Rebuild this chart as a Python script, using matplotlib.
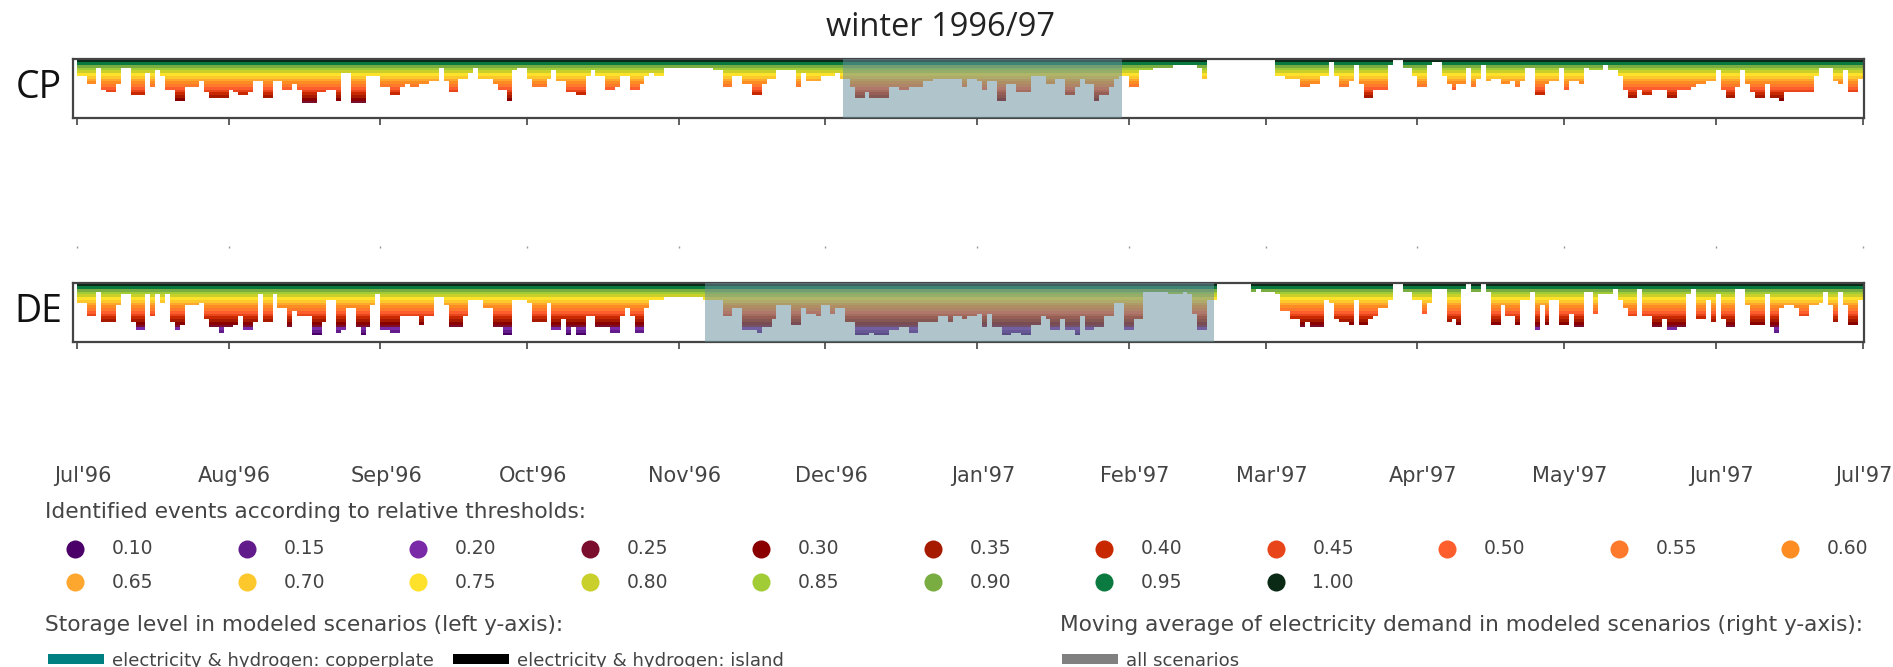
import numpy as np
import matplotlib
matplotlib.use("Agg")
import matplotlib.pyplot as plt
import matplotlib.transforms as mtransforms
from matplotlib.colors import ListedColormap

plt.rcParams['font.family'] = ['Open Sans', 'DejaVu Sans']

# thresholds and their colours
thresholds = [0.10, 0.15, 0.20, 0.25, 0.30, 0.35, 0.40, 0.45, 0.50, 0.55,
              0.60, 0.65, 0.70, 0.75, 0.80, 0.85, 0.90, 0.95, 1.00]
threshold_colors = ['#4a0068', '#621b8a', '#7a2aa6', '#7c0e2d', '#8a0000',
                    '#a61a00', '#c82800', '#e8461a', '#fe5e2e', '#fd7a2c',
                    '#fd8c22', '#fda72f', '#fdc82c', '#fde12a', '#c9d02c',
                    '#a2cc35', '#7aad41', '#0b7a40', '#0a2a16']

month_days = [0, 31, 62, 92, 123, 153, 184, 215, 243, 274, 304, 335, 365]
month_labels = ["Jul'96", "Aug'96", "Sep'96", "Oct'96", "Nov'96", "Dec'96",
                "Jan'97", "Feb'97", "Mar'97", "Apr'97", "May'97", "Jun'97", "Jul'97"]

# lowest threshold reached, as steps: day (from 1 Jul 1996) where a level starts
# None = no event that day
cp_start = [0, 2, 4, 5, 6, 8, 9, 11, 14, 15, 16, 17, 18, 20, 22, 25, 26, 27, 31, 32,
            33, 35, 36, 38, 40, 42, 44, 45, 46, 49, 51, 53, 54, 56, 59, 62, 64, 66, 67, 68,
            70, 72, 74, 75, 76, 78, 80, 81, 82, 85, 86, 88, 89, 90, 92, 93, 96, 97, 98, 100,
            102, 104, 105, 106, 108, 110, 111, 113, 115, 116, 117, 118, 120, 130, 132, 134, 136, 138, 140, 141,
            143, 147, 148, 149, 152, 155, 156, 158, 159, 161, 162, 166, 168, 170, 173, 175, 181, 182, 184, 185,
            186, 188, 190, 192, 195, 198, 200, 202, 204, 205, 206, 208, 209, 211, 212, 213, 215, 217, 220, 224,
            229, 230, 231, 245, 247, 250, 252, 254, 256, 257, 258, 260, 261, 262, 263, 265, 268, 269, 271, 273,
            274, 276, 277, 279, 280, 281, 282, 284, 285, 286, 287, 288, 289, 291, 293, 294, 295, 296, 298, 300,
            301, 303, 304, 305, 307, 308, 309, 312, 313, 315, 316, 317, 319, 320, 322, 325, 327, 330, 331, 333,
            335, 336, 337, 339, 340, 341, 342, 343, 345, 346, 348, 349, 355, 356, 359, 360, 361, 362, 364]
cp_level = [0.75, 0.60, 0.90, 0.50, 0.45, 0.60, 0.90, 0.40, 0.80, 0.55, 0.85, 0.75, 0.50, 0.30, 0.55, 0.65, 0.45, 0.35, 0.50, 0.45,
            0.40, 0.45, 0.65, 0.35, 0.65, 0.50, 0.60, 0.50, 0.25, 0.45, 0.50, 0.30, 0.80, 0.25, 0.75, 0.55, 0.40, 0.55, 0.60, 0.55,
            0.60, 0.65, 0.90, 0.65, 0.45, 0.70, 0.80, 0.90, 0.70, 0.60, 0.50, 0.30, 0.85, 0.90, 0.70, 0.55, 0.70, 0.85, 0.65, 0.45,
            0.40, 0.75, 0.85, 0.75, 0.50, 0.55, 0.75, 0.50, 0.60, 0.75, 0.80, 0.75, 0.90, 0.85, 0.55, 0.75, 0.60, 0.40, 0.60, 0.70,
            0.85, 0.55, 0.80, 0.65, 0.75, 0.80, 0.70, 0.55, 0.35, 0.45, 0.35, 0.55, 0.50, 0.55, 0.65, 0.70, 0.55, 0.70, 0.65, 0.50,
            0.65, 0.30, 0.60, 0.45, 0.75, 0.60, 0.70, 0.40, 0.55, 0.70, 0.60, 0.30, 0.40, 0.55, 0.70, 0.75, 0.55, 0.85, 0.90, 0.95,
            0.90, 0.70, None, 0.75, 0.70, 0.55, 0.60, 0.75, 1.00, 0.75, 0.55, 0.65, 0.95, 0.60, 0.35, 0.50, 0.95, None, 0.90, 0.75,
            0.55, 0.95, 1.00, 0.75, 0.60, 0.50, 0.60, 0.90, 0.55, 0.70, 0.95, 0.65, 0.70, 0.60, 0.65, 0.55, 0.65, 0.90, 0.40, 0.60,
            0.65, 0.90, 0.50, 0.65, 0.60, 0.90, 0.85, 0.95, 0.85, 0.75, 0.50, 0.35, 0.50, 0.40, 0.50, 0.35, 0.50, 0.55, 0.60, 0.65,
            0.85, 0.50, 0.35, 0.55, 0.85, 0.60, 0.45, 0.35, 0.60, 0.35, 0.30, 0.45, 0.75, 0.90, 0.65, 0.60, 0.85, 0.45, 0.70]

de_start = [0, 2, 4, 5, 8, 9, 11, 12, 14, 15, 16, 17, 18, 19, 20, 21, 22, 25, 26, 27,
            29, 30, 32, 33, 34, 36, 37, 38, 40, 41, 43, 44, 45, 48, 50, 51, 53, 54, 55, 57,
            58, 59, 60, 61, 62, 64, 66, 70, 71, 73, 75, 76, 79, 80, 83, 85, 87, 89, 92, 93,
            96, 97, 99, 100, 101, 102, 104, 106, 109, 111, 112, 113, 114, 116, 117, 120, 128, 132, 134, 136,
            139, 140, 142, 143, 146, 148, 149, 151, 152, 154, 155, 157, 159, 162, 163, 166, 168, 170, 172, 176,
            178, 179, 181, 182, 184, 185, 186, 187, 189, 191, 193, 195, 197, 198, 199, 201, 202, 204, 205, 206,
            208, 210, 212, 214, 216, 218, 223, 226, 227, 228, 229, 231, 233, 240, 241, 242, 245, 246, 248, 250,
            251, 252, 255, 256, 257, 258, 260, 261, 262, 264, 265, 266, 268, 269, 271, 273, 275, 276, 277, 280,
            281, 282, 283, 284, 285, 287, 288, 289, 291, 292, 294, 295, 297, 298, 299, 300, 301, 303, 305, 306,
            308, 310, 311, 314, 315, 316, 317, 319, 320, 322, 324, 325, 327, 329, 330, 331, 333, 334, 335, 336,
            337, 339, 341, 342, 345, 346, 347, 348, 349, 351, 352, 354, 356, 357, 358, 359, 360, 361, 362, 364]
de_level = [0.70, 0.45, 0.90, 0.35, 0.65, 0.85, 0.35, 0.20, 0.85, 0.45, 0.85, 0.70, 0.85, 0.35, 0.20, 0.30, 0.65, 0.70, 0.40, 0.25,
            0.15, 0.25, 0.30, 0.45, 0.20, 0.35, 0.85, 0.35, 0.85, 0.60, 0.25, 0.55, 0.45, 0.10, 0.35, 0.75, 0.15, 0.20, 0.60, 0.25,
            0.10, 0.25, 0.65, 0.85, 0.20, 0.15, 0.45, 0.30, 0.45, 0.80, 0.65, 0.25, 0.45, 0.75, 0.60, 0.25, 0.10, 0.75, 0.70, 0.35,
            0.70, 0.20, 0.40, 0.10, 0.25, 0.10, 0.45, 0.25, 0.15, 0.45, 0.60, 0.45, 0.15, 0.60, 0.75, 0.80, 0.75, 0.45, 0.60, 0.20,
            0.15, 0.25, 0.40, 0.65, 0.30, 0.60, 0.50, 0.45, 0.65, 0.50, 0.60, 0.35, 0.10, 0.15, 0.10, 0.20, 0.25, 0.15, 0.35, 0.45,
            0.35, 0.45, 0.40, 0.45, 0.50, 0.25, 0.50, 0.25, 0.10, 0.15, 0.10, 0.30, 0.45, 0.40, 0.20, 0.40, 0.20, 0.10, 0.45, 0.20,
            0.25, 0.45, 0.70, 0.20, 0.40, 0.90, 0.85, 0.90, 0.85, 0.50, 0.20, 0.75, None, 0.90, 0.95, 0.90, 0.85, 0.55, 0.40, 0.25,
            0.35, 0.25, 0.75, 0.70, 0.40, 0.35, 0.30, 0.75, 0.30, 0.40, 0.45, 0.60, 0.75, None, 0.90, 0.75, 0.50, 0.70, 0.95, 0.35,
            0.40, 0.30, 0.95, None, 0.90, None, 0.90, 0.30, 0.65, 0.45, 0.30, 0.75, 0.90, 0.20, 0.65, 0.30, 0.75, 0.30, 0.50, 0.25,
            0.90, 0.50, 0.85, 0.95, 0.75, 0.60, 0.45, 0.95, 0.45, 0.25, 0.40, 0.20, 0.25, 0.85, 0.95, 0.40, 0.75, 0.35, 0.85, 0.40,
            0.25, 0.95, 0.65, 0.30, 0.85, 0.25, 0.15, 0.60, 0.65, 0.60, 0.45, 0.65, 0.70, 0.90, 0.65, 0.35, 0.90, 0.65, 0.30, 0.75]

# highlighted winter event (day range) per region
cp_event = (156.5, 213.7)
de_event = (128.4, 232.5)

panels = [("CP", cp_start, cp_level, cp_event), ("DE", de_start, de_level, de_event)]

W, H = 1893, 667
fig = plt.figure(figsize=(W / 100, H / 100), dpi=100)

def fx(px):
    return px / W

def fy(px):
    return 1 - px / H

left, right = 73, 1864
cmap = ListedColormap(threshold_colors)
band_edges = np.array(thresholds + [thresholds[-1] + 0.05]) - 0.05
n_days = month_days[-1]
leg_font = 'DejaVu Sans'

panel_tops = [59, 283]
panel_h = 59
for (name, starts, levels, event), top in zip(panels, panel_tops):
    ax = fig.add_axes([fx(left), fy(top + panel_h), fx(right - left), panel_h / H])
    # expand steps to one value per day
    daily = np.full(n_days, np.nan)
    for s, lv in zip(starts, levels):
        daily[s:] = np.nan if lv is None else lv
    grid = np.ma.masked_all((len(thresholds), n_days))
    for k, t in enumerate(thresholds):
        hit = ~np.isnan(daily) & (daily <= t + 1e-9)
        grid[k, hit] = k
    ax.pcolormesh(np.arange(n_days + 1), band_edges, grid, cmap=cmap,
                  vmin=-0.5, vmax=len(thresholds) - 0.5, shading='flat', zorder=1)
    ax.axvspan(event[0], event[1], color='#6b90a0', alpha=0.53, lw=0, zorder=3)
    ax.set_xlim(-0.8, n_days + 0.3)
    ax.set_ylim(-0.07, 1.01)
    ax.set_yticks([])
    ax.set_xticks(month_days)
    ax.set_xticklabels([])
    ax.tick_params(axis='x', length=5, width=1.2, color='#444444', direction='out')
    for sp in ax.spines.values():
        sp.set_color('#444444')
        sp.set_linewidth(1.6)
    fig.text(fx(62), fy(top + panel_h / 2), name, fontsize=27, ha='right', va='center',
             color='#111111')

# faint tick row between the panels
ax_dots = fig.add_axes([fx(left), fy(247), fx(right - left), 0.0001])
ax_dots.set_xlim(-0.8, n_days + 0.3)
ax_dots.set_xticks(month_days)
ax_dots.set_xticklabels([])
ax_dots.set_yticks([])
ax_dots.tick_params(axis='x', length=1.5, width=1, color='#999999', direction='inout')
for sp in ax_dots.spines.values():
    sp.set_visible(False)

# month labels
ax_lab = fig.add_axes([fx(left + 6), fy(466), fx(right - left), 0.0001])
ax_lab.set_xlim(-0.8, n_days + 0.3)
ax_lab.set_xticks(month_days)
ax_lab.set_xticklabels(month_labels, fontsize=15, color='#444444', family=leg_font)
ax_lab.set_yticks([])
ax_lab.tick_params(axis='x', length=0, pad=0)
for sp in ax_lab.spines.values():
    sp.set_visible(False)
last = ax_lab.get_xticklabels()[-1]
last.set_horizontalalignment('right')
last.set_transform(last.get_transform() + mtransforms.ScaledTranslation(0.24, 0, fig.dpi_scale_trans))

fig.text(0.497, fy(27), "winter 1996/97", fontsize=23.5, ha='center', va='center', color='#222222')

# legend drawn in pixel coordinates
leg = fig.add_axes([0, 0, 1, 1])
leg.set_xlim(0, W)
leg.set_ylim(H, 0)
leg.axis('off')
txt = dict(fontsize=15.6, color='#444444', va='center', family=leg_font)
item = dict(fontsize=13.5, color='#444444', va='center', family=leg_font)
leg.text(45, 512, "Identified events according to relative thresholds:", **txt)
for i, (t, c) in enumerate(zip(thresholds, threshold_colors)):
    row, col = divmod(i, 11)
    x = 75 + 171.5 * col
    y = 549 + 33 * row
    leg.plot(x, y, 'o', ms=13, color=c, mec='none')
    leg.text(x + 37, y, f"{t:.2f}", **item)

leg.text(45, 625, "Storage level in modeled scenarios (left y-axis):", **txt)
leg.text(1060, 625, "Moving average of electricity demand in modeled scenarios (right y-axis):", **txt)
storage_names = ["electricity & hydrogen: copperplate", "electricity & hydrogen: island", "all scenarios"]
storage_colors = ['#008080', '#000000', '#808080']
storage_x = [48, 453, 1062]
for name, c, x in zip(storage_names, storage_colors, storage_x):
    leg.add_patch(plt.Rectangle((x, 654), 56, 10, color=c, lw=0))
    leg.text(x + 64, 661, name, fontsize=13.1, color='#444444', va='center', family=leg_font)

fig.savefig("out.png", dpi=100)
